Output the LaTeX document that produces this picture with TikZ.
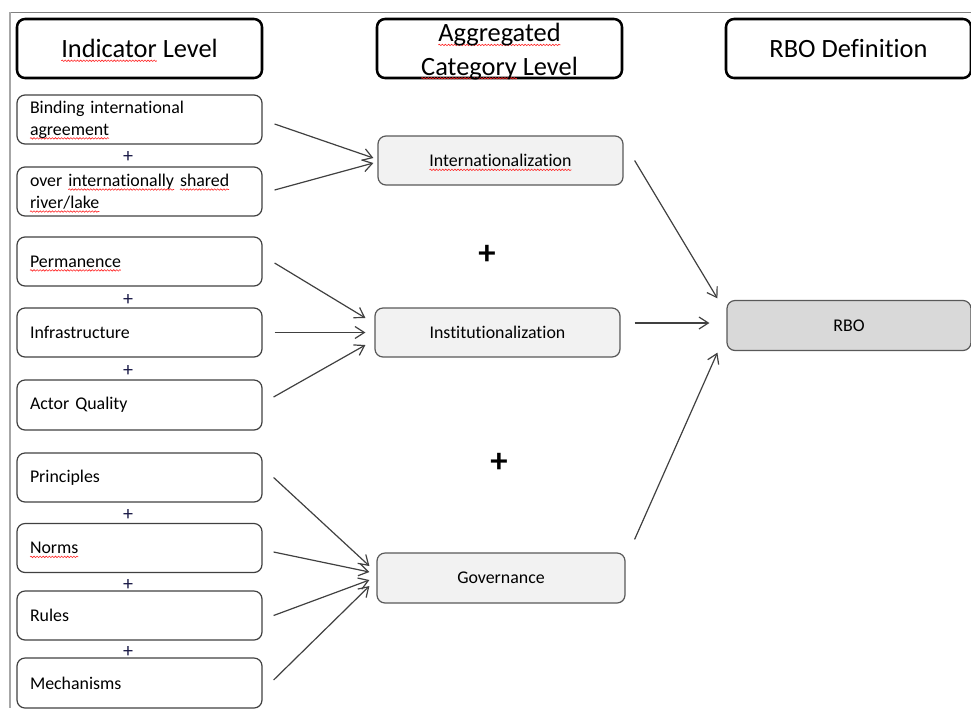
\documentclass[tikz,border=0pt]{standalone}
\usepackage{fontspec}
\setmainfont{Carlito}[Ligatures=NoCommon]
\usetikzlibrary{arrows.meta,decorations.pathmorphing}

\definecolor{navy}{RGB}{25,25,70}
% red spell-check wave under a word
\newsavebox{\wavebox}
\newcommand{\redwave}[1]{\sbox{\wavebox}{#1}\tikz[overlay, baseline=0pt, sharp corners]\draw[red!85!white, line width=0.45pt, decorate, decoration={snake, amplitude=0.55pt, segment length=2.3pt}] (0pt,-2.4pt) -- (\wd\wavebox,-2.4pt);\usebox{\wavebox}}

\begin{document}
\begin{tikzpicture}[x=0.75pt, y=-0.75pt,
  head/.style={draw, line width=1.9pt, rounded corners=6pt, minimum width=183.75pt, minimum height=44.25pt, inner ysep=0pt, align=center, font=\fontsize{19.8}{25}\selectfont},
  ind/.style={draw=black!75, line width=0.9pt, rounded corners=6pt, minimum height=36.75pt, text width=164.25pt, inner xsep=9.75pt, align=left, font=\fontsize{13.4}{16.5}\selectfont},
  cat/.style={draw=black!65, fill=black!5, line width=0.9pt, rounded corners=6pt, minimum width=183.75pt, minimum height=36.75pt, font=\fontsize{13.4}{16}\selectfont},
  plus/.style={text=navy, inner sep=0pt, font=\fontsize{15}{15}\selectfont},
  bigplus/.style={inner sep=0pt, font=\bfseries\fontsize{26}{26}\selectfont},
  arr/.style={draw=black!75, line width=0.9pt, -{Straight Barb[length=7pt,width=9pt]}}]
  \useasboundingbox (0,0) rectangle (971,708);
  \draw[black!50, line width=0.75pt] (10,12) -- (971,12);
  \draw[black!35, line width=1.5pt] (10,12) -- (10,708);

  % headers
  \node[head] (hind) at (139.5,48.5) {\redwave{Indicator} Level};
  \node[head] (hagg) at (499.5,48.5) {\raisebox{-2.25pt}[\height][\depth]{\redwave{Aggregated}}\\\raisebox{-2.25pt}[\height][\depth]{\redwave{Category} Level}};
  \node[head] (hrbo) at (848.5,48.5) {RBO Definition};

  % indicators
  \node[ind] (bind) at (139.5,119.5) {Binding international\\\redwave{agreement}};
  \node[ind] (over) at (139.5,191.5) {over \redwave{internationally} \redwave{shared}\\\redwave{river/lake}};
  \node[ind] (perm) at (139.5,261.5) {\redwave{Permanence}};
  \node[ind] (infra) at (139.5,332.5) {Infrastructure};
  \node[ind, minimum height=37.5pt] (actor) at (139.5,405) {Actor Quality};
  \node[ind] (princ) at (139.5,477.5) {Principles};
  \node[ind] (norms) at (139.5,548) {\redwave{Norms}};
  \node[ind] (rules) at (139.5,615.5) {Rules};
  \node[ind, minimum height=37.5pt] (mech) at (139.5,683) {Mechanisms};
  \node[plus] (p1) at (128,157) {+};
  \node[plus] (p2) at (128,300) {+};
  \node[plus] (p3) at (128,371) {+};
  \node[plus] (p4) at (128,515) {+};
  \node[plus] (p5) at (128,585) {+};
  \node[plus] (p6) at (128,652) {+};

  % categories
  \node[cat] (intl) at (500.5,160.5) {\redwave{Internationalization}};
  \node[cat] (inst) at (497.5,332.5) {Institutionalization};
  \node[cat, minimum width=186pt, minimum height=37.5pt] (gov) at (501,578) {Governance};
  \node[bigplus] (bp1) at (487,255) {+};
  \node[bigplus] (bp2) at (499,463) {+};
  \node[cat, fill=black!15, minimum width=183pt, minimum height=37.5pt] (rbo) at (849,325.5) {RBO};

  \draw[arr] ([shift={(12,4.5)}]bind.east) -- ([shift={(-4,-2.5)}]intl.west);
  \draw[arr] ([shift={(12,-1.5)}]over.east) -- ([shift={(-4,2.5)}]intl.west);
  \draw[arr] ([shift={(12,1.5)}]perm.east) -- ([shift={(-9,-14.5)}]inst.west);
  \draw[arr] ([shift={(12,0)}]infra.east) -- ([shift={(-9,0)}]inst.west);
  \draw[arr] ([shift={(11,-8)}]actor.east) -- ([shift={(-9,12.5)}]inst.west);
  \draw[arr] ([shift={(11,0)}]princ.east) -- ([shift={(-7,-12)}]gov.west);
  \draw[arr] ([shift={(11,4)}]norms.east) -- ([shift={(-7,-6)}]gov.west);
  \draw[arr] ([shift={(11,0)}]rules.east) -- ([shift={(-7,2)}]gov.west);
  \draw[arr] ([shift={(11,-3)}]mech.east) -- ([shift={(-7,8)}]gov.west);
  \draw[arr] ([shift={(11,0)}]intl.east) -- ([shift={(-9,-1.5)}]rbo.north west);
  \draw[arr] ([shift={(14,-9.5)}]inst.east) -- ([shift={(-17,-2.5)}]rbo.west);
  \draw[arr] ([shift={(9,-13)}]gov.north east) -- ([shift={(-9,1.5)}]rbo.south west);
\end{tikzpicture}
\end{document}
